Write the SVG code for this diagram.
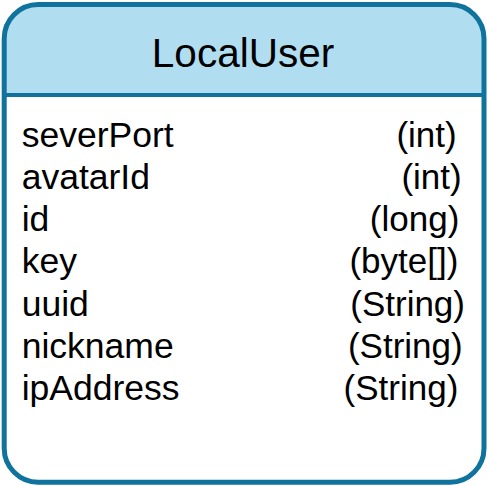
<svg xmlns="http://www.w3.org/2000/svg" width="489" height="486" viewBox="0 0 489 486">
<style>
.t{font-family:"Liberation Sans",Arial,sans-serif;fill:#000}
.f{font-size:35.5px}
.r{font-size:35px;text-anchor:end}
</style>
<rect width="489" height="486" fill="#ffffff"/>
<g id="LocalUser">
<path d="M4.2,95 V38.5 A34,34 0 0 1 38.2,4.5 H450 A34,34 0 0 1 484,38.5 V95 Z" fill="#b1ddf0"/>
<rect x="4.2" y="4.5" width="479.8" height="477.8" rx="34" ry="34" fill="none" stroke="#10739e" stroke-width="5"/>
<line x1="4.2" y1="95" x2="484" y2="95" stroke="#10739e" stroke-width="4"/>
<text class="t" x="243" y="66.7" font-size="40.5" text-anchor="middle">LocalUser</text>
<text class="t f" x="21.7" y="146.7">severPort</text>
<text class="t f" x="21.7" y="188.9">avatarId</text>
<text class="t f" x="21.7" y="231.1">id</text>
<text class="t f" x="21.7" y="273.3">key</text>
<text class="t f" x="21.7" y="315.5">uuid</text>
<text class="t f" x="21.7" y="357.7">nickname</text>
<text class="t f" x="21.7" y="400">ipAddress</text>
<text class="t r" x="456.7" y="146.7">(int)</text>
<text class="t r" x="461.7" y="188.9">(int)</text>
<text class="t r" x="459.3" y="231.1">(long)</text>
<text class="t r" x="458.3" y="273.3">(byte[])</text>
<text class="t r" x="465" y="315.5">(String)</text>
<text class="t r" x="462.7" y="357.7">(String)</text>
<text class="t r" x="458.3" y="400">(String)</text>
</g>
<g id="connectors"/>
</svg>
